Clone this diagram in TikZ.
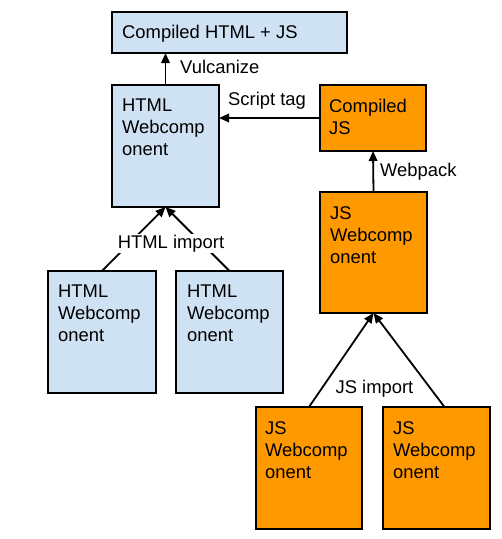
\documentclass[tikz,border=0pt]{standalone}
\usepackage{fontspec}
\setmainfont{Liberation Sans}
\usetikzlibrary{arrows.meta}
\definecolor{htmlblue}{HTML}{CFE2F3}
\definecolor{jsorange}{HTML}{FF9900}
\begin{document}
\begin{tikzpicture}[x=1pt,y=-1pt,
    every node/.style={font=\fontsize{18.4}{22}\selectfont},
    box/.style={draw, line width=1.8pt, inner sep=0pt, outer sep=0pt, anchor=north west},
    htmlbox/.style={box, fill=htmlblue},
    jsbox/.style={box, fill=jsorange},
    txt/.style={anchor=north west, inner sep=0pt, align=left},
    lbl/.style={inner sep=0pt, anchor=base west},
    link/.style={line width=1.8pt, -{Triangle[length=10pt,width=8.5pt]}}]
  \useasboundingbox (0,0) rectangle (502,539);
  % boxes
  \node[htmlbox, minimum width=235pt, minimum height=41pt] (out) at (112,12) {};
  \node[htmlbox, minimum width=107pt, minimum height=122pt] (html) at (112,85) {};
  \node[jsbox, minimum width=106pt, minimum height=66pt] (cjs) at (320,85) {};
  \node[jsbox, minimum width=107pt, minimum height=121pt] (js) at (320,192) {};
  \node[htmlbox, minimum width=108pt, minimum height=122pt] (html1) at (48,271) {};
  \node[htmlbox, minimum width=107pt, minimum height=122pt] (html2) at (176,271) {};
  \node[jsbox, minimum width=106pt, minimum height=122pt] (js1) at (256,407) {};
  \node[jsbox, minimum width=107pt, minimum height=122pt] (js2) at (383,407) {};
  % texts
  \node[inner sep=0pt, anchor=base west] (out-t) at (122,38) {Compiled HTML + JS};
  \node[txt] (html-t) at ([shift={(10,14)}]html.north west) {HTML\\Webcomp\\onent};
  \node[txt] (cjs-t) at ([shift={(9,14)}]cjs.north west) {Compiled\\JS};
  \node[txt] (js-t) at ([shift={(10,14)}]js.north west) {JS\\Webcomp\\onent};
  \node[txt] (html1-t) at ([shift={(10,14)}]html1.north west) {HTML\\Webcomp\\onent};
  \node[txt] (html2-t) at ([shift={(11,14)}]html2.north west) {HTML\\Webcomp\\onent};
  \node[txt] (js1-t) at ([shift={(9,14)}]js1.north west) {JS\\Webcomp\\onent};
  \node[txt] (js2-t) at ([shift={(10,14)}]js2.north west) {JS\\Webcomp\\onent};
  % arrows
  \begin{scope}
    \draw[link] (html.north) -- (html.north |- out.south);
    \draw[link] (cjs.west) -- (cjs.west -| html.east);
    \draw[link] (js.north) -- (cjs.south);
    \draw[link] (html1.north) -- (html.south);
    \draw[link] (html2.north) -- (html.south);
    \draw[link] (js1.north) -- (js.south);
    \draw[link] ([xshift=8pt]js2.north) -- (js.south);
  \end{scope}
  % labels
  \node[lbl] (vulcanize) at (180,73) {Vulcanize};
  \node[lbl] (scripttag) at (228,105) {Script tag};
  \node[lbl] (webpack) at (380,176) {Webpack};
  \node[fill=white, inner sep=1pt, anchor=base] (htmlimport) at (171,248) {HTML import};
  \node[inner sep=0pt, anchor=base] (jsimport) at (374.5,393) {JS import};
\end{tikzpicture}
\end{document}
